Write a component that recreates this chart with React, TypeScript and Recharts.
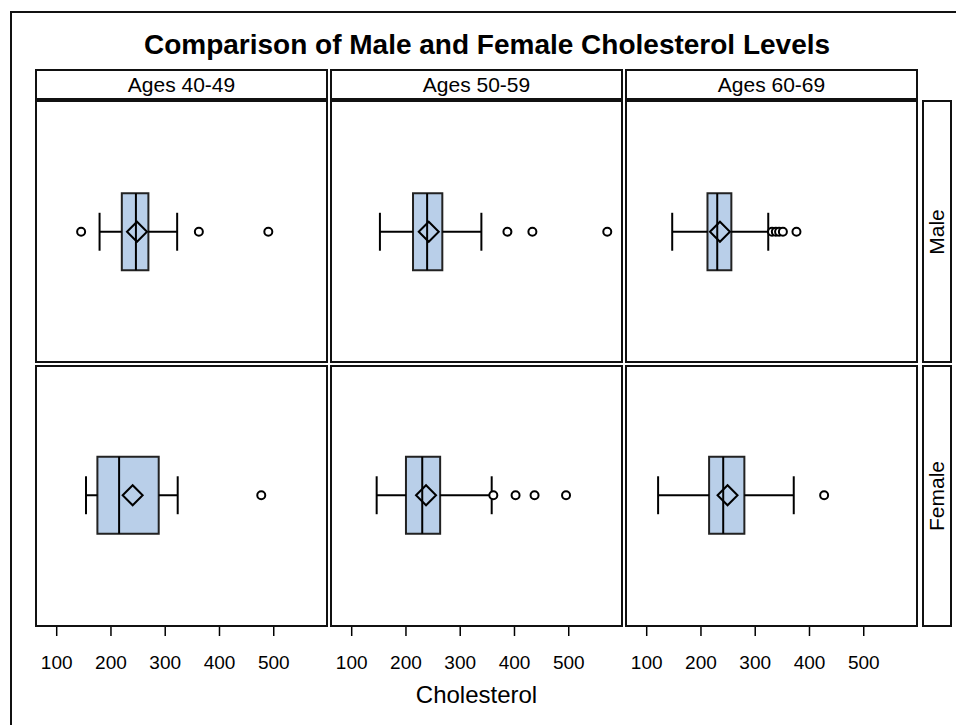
import React from 'react'
import { ReferenceArea, ReferenceLine, Scatter, ScatterChart, XAxis, YAxis } from 'recharts'

const AGE_GROUPS = ['Ages 40-49', 'Ages 50-59', 'Ages 60-69']
const SEXES = ['Male', 'Female']
const X_TICKS = [100, 200, 300, 400, 500]

// box stats, one entry per age group
const MALE_STATS = [
  { min: 179, q1: 220, median: 246, q3: 269, max: 322, mean: 248 },
  { min: 152, q1: 213, median: 239, q3: 267, max: 339, mean: 242 },
  { min: 147, q1: 212, median: 230, q3: 256, max: 324, mean: 235 },
]
const FEMALE_STATS = [
  { min: 154, q1: 175, median: 215, q3: 288, max: 323, mean: 240 },
  { min: 146, q1: 200, median: 230, q3: 263, max: 358, mean: 237 },
  { min: 121, q1: 215, median: 241, q3: 280, max: 371, mean: 249 },
]
const MALE_OUTLIERS = [
  [145, 362, 490],
  [387, 433, 571],
  [331, 338, 344, 351, 376],
]
const FEMALE_OUTLIERS = [[477], [361, 402, 437, 495], [427]]

const FONT = '"Liberation Sans", Arial, sans-serif'
const BOX_FILL = '#B9CFE9'
const COL_X = [35, 330, 625]
const COL_W = 293
const PLOT_TOP = 100
const PLOT_H = 527
const AXIS_H = 60
const BOX_HALF = 0.146
const CAP_HALF = 0.072

type Stats = (typeof MALE_STATS)[number]

const Circle = (p: any) => (
  <circle cx={p.cx} cy={p.cy} r={4} fill="#fff" stroke="#000" strokeWidth={2} />
)
const Diamond = (p: any) => {
  const { cx, cy } = p
  const s = 10
  return (
    <polygon
      points={`${cx - s},${cy} ${cx},${cy - s} ${cx + s},${cy} ${cx},${cy + s}`}
      fill="none"
      stroke="#000"
      strokeWidth={2}
    />
  )
}

function boxParts(s: Stats, c: number, key: string) {
  const line = { stroke: '#000', strokeWidth: 2, ifOverflow: 'visible' as const }
  return [
    <ReferenceLine key={key + 'wl'} segment={[{ x: s.min, y: c }, { x: s.q1, y: c }]} {...line} />,
    <ReferenceLine key={key + 'wh'} segment={[{ x: s.q3, y: c }, { x: s.max, y: c }]} {...line} />,
    <ReferenceLine key={key + 'cl'} segment={[{ x: s.min, y: c - CAP_HALF }, { x: s.min, y: c + CAP_HALF }]} {...line} />,
    <ReferenceLine key={key + 'ch'} segment={[{ x: s.max, y: c - CAP_HALF }, { x: s.max, y: c + CAP_HALF }]} {...line} />,
    <ReferenceArea
      key={key + 'box'}
      x1={s.q1}
      x2={s.q3}
      y1={c - BOX_HALF}
      y2={c + BOX_HALF}
      fill={BOX_FILL}
      fillOpacity={1}
      stroke="#222"
      strokeWidth={2}
    />,
    <ReferenceLine key={key + 'md'} segment={[{ x: s.median, y: c - BOX_HALF }, { x: s.median, y: c + BOX_HALF }]} {...line} />,
  ]
}

function ColumnChart({ col }: { col: number }) {
  const m = MALE_STATS[col]
  const f = FEMALE_STATS[col]
  const outliers = [
    ...MALE_OUTLIERS[col].map((x) => ({ x, y: 1.5 })),
    ...FEMALE_OUTLIERS[col].map((x) => ({ x, y: 0.5 })),
  ]
  const means = [
    { x: m.mean, y: 1.5 },
    { x: f.mean, y: 0.5 },
  ]
  return (
    <ScatterChart width={COL_W} height={PLOT_H + AXIS_H} margin={{ top: 0, right: 0, bottom: 0, left: 0 }}>
      <XAxis
        type="number"
        dataKey="x"
        domain={[60, 600]}
        ticks={X_TICKS}
        allowDataOverflow
        axisLine={false}
        tickLine={{ stroke: '#000', strokeWidth: 1.5 }}
        tickSize={9}
        tickMargin={20}
        height={AXIS_H}
        tick={{ fill: '#000', fontSize: 19, fontFamily: FONT }}
      />
      <YAxis type="number" dataKey="y" domain={[0, 2]} hide />
      {boxParts(m, 1.5, 'm')}
      {boxParts(f, 0.5, 'f')}
      <Scatter data={outliers} shape={Circle} isAnimationActive={false} />
      <Scatter data={means} shape={Diamond} isAnimationActive={false} />
    </ScatterChart>
  )
}

const frame = (left: number, top: number, width: number, height: number): React.CSSProperties => ({
  position: 'absolute',
  left,
  top,
  width,
  height,
  border: '2px solid #111',
  boxSizing: 'border-box',
  pointerEvents: 'none',
})

export default function App() {
  const rows = [
    { top: 100, h: 263 },
    { top: 365, h: 262 },
  ]
  return (
    <div
      style={{
        position: 'absolute',
        left: 0,
        top: 0,
        width: 956,
        height: 725,
        overflow: 'hidden',
        background: '#fff',
        fontFamily: FONT,
      }}
    >
      <div style={frame(10, 11, 980, 760)} />
      <div
        style={{
          position: 'absolute',
          left: 0,
          top: 29,
          width: 974,
          textAlign: 'center',
          fontSize: 28,
          fontWeight: 'bold',
        }}
      >
        Comparison of Male and Female Cholesterol Levels
      </div>
      {COL_X.map((x, i) => (
        <div key={'chart' + i} style={{ position: 'absolute', left: x, top: PLOT_TOP }}>
          <ColumnChart col={i} />
        </div>
      ))}
      {COL_X.map((x, i) => (
        <div
          key={'strip' + i}
          style={{
            ...frame(x, 69, COL_W, 31),
            display: 'flex',
            alignItems: 'center',
            justifyContent: 'center',
            fontSize: 21,
          }}
        >
          {AGE_GROUPS[i]}
        </div>
      ))}
      {COL_X.map((x, i) =>
        rows.map((r, j) => <div key={'p' + i + j} style={frame(x, r.top, COL_W, r.h)} />)
      )}
      {rows.map((r, j) => (
        <div
          key={'row' + j}
          style={{
            ...frame(922, r.top, 30, r.h),
            display: 'flex',
            alignItems: 'center',
            justifyContent: 'center',
          }}
        >
          <span style={{ transform: 'rotate(-90deg)', fontSize: 21, whiteSpace: 'nowrap' }}>{SEXES[j]}</span>
        </div>
      ))}
      <div
        style={{
          position: 'absolute',
          left: 35,
          top: 681,
          width: 883,
          textAlign: 'center',
          fontSize: 24,
        }}
      >
        Cholesterol
      </div>
    </div>
  )
}
